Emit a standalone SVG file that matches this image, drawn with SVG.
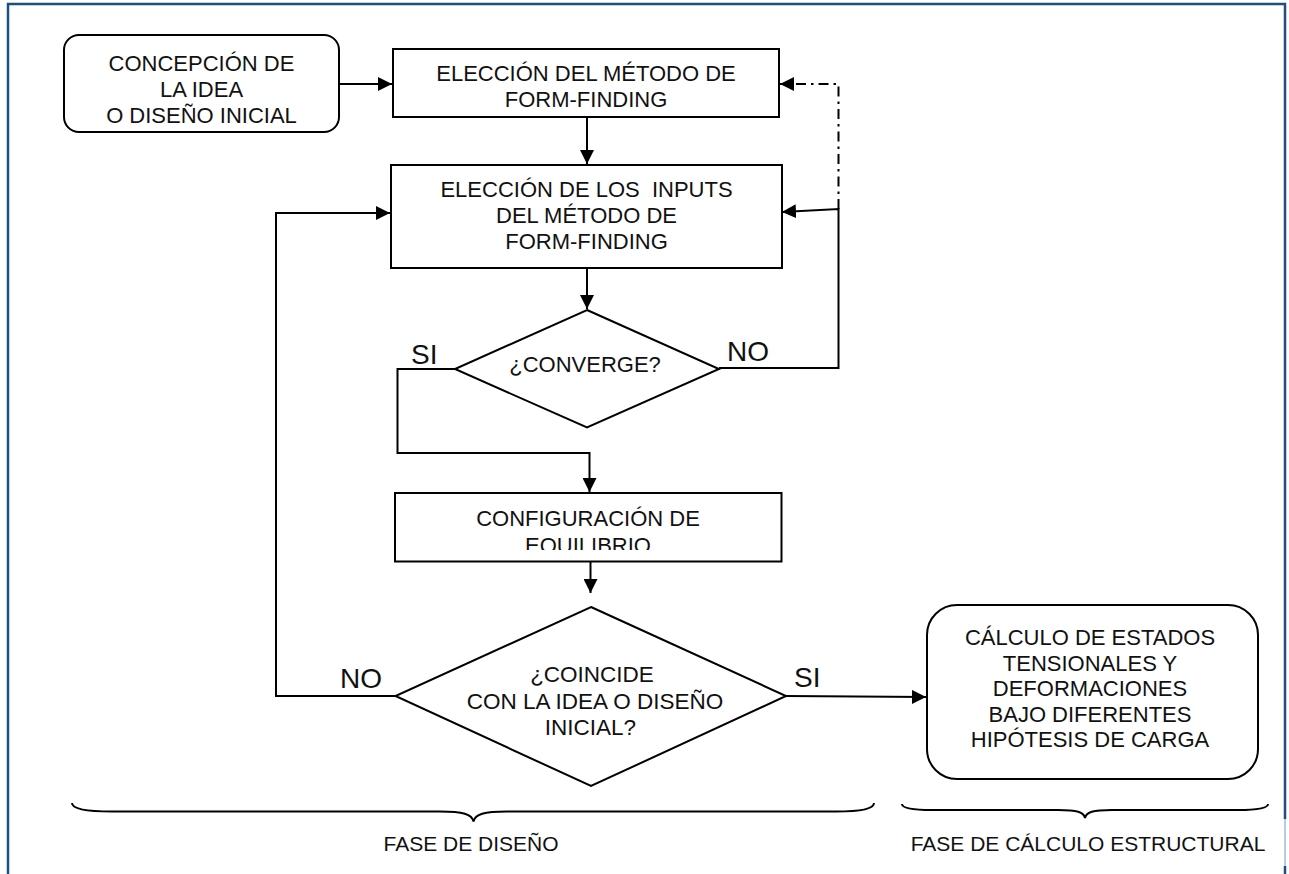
<svg xmlns="http://www.w3.org/2000/svg" width="1289" height="874" viewBox="0 0 1289 874">
  <style>
    .box { fill: #ffffff; stroke: #000000; stroke-width: 2; }
    .line { fill: none; stroke: #000000; stroke-width: 2; }
    .dashdot { fill: none; stroke: #000000; stroke-width: 2; stroke-dasharray: 10 5 2.5 5; }
    .brace { fill: none; stroke: #000000; stroke-width: 2; }
    .frame { fill: none; stroke: #1f4e80; stroke-width: 2.5; }
    .t { font-family: "Liberation Sans", Arial, sans-serif; font-size: 22px; fill: #111111; text-anchor: middle; white-space: pre; }
    .lbl { font-family: "Liberation Sans", Arial, sans-serif; font-size: 28px; fill: #111111; white-space: pre; }
    .phase { font-family: "Liberation Sans", Arial, sans-serif; font-size: 21px; fill: #111111; text-anchor: middle; }
  </style>
  <defs>
    <marker id="arrow" markerUnits="userSpaceOnUse" markerWidth="15" markerHeight="14" refX="14" refY="7" orient="auto">
      <path d="M0,0 L14,7 L0,14 Z" fill="#000000"/>
    </marker>
    <clipPath id="clip-equilibrio">
      <rect x="390" y="490" width="400" height="60"/>
    </clipPath>
  </defs>

  <rect width="1289" height="874" fill="#ffffff"/>

  <!-- page frame -->
  <g id="frame">
    <path class="frame" d="M8,874 V4 H1285 V819"/>
    <path d="M1285,819 V866" fill="none" stroke="#b8cce4" stroke-width="2"/>
    <path class="frame" d="M1285,866 V874"/>
  </g>

  <!-- connectors -->
  <g id="connectors">
    <path class="line" d="M340,84 H392" marker-end="url(#arrow)"/>
    <path class="line" d="M587,117 V164" marker-end="url(#arrow)"/>
    <path class="line" d="M587,268 V309" marker-end="url(#arrow)"/>
    <path class="dashdot" d="M838.5,209 V84 H795"/>
    <path class="line" d="M794,84 H780" marker-end="url(#arrow)"/>
    <path class="line" d="M719,368 H838.5 V209 L782,212" marker-end="url(#arrow)"/>
    <path class="line" d="M455,369 H397.5 V453 H589.5 V492" marker-end="url(#arrow)"/>
    <path class="line" d="M590.5,550 V593" marker-end="url(#arrow)"/>
    <path class="line" d="M395.5,696 H276 V213 H390" marker-end="url(#arrow)"/>
    <path class="line" d="M786,696 L926,697" marker-end="url(#arrow)"/>
    <text class="lbl" x="411" y="364">SI</text>
    <text class="lbl" x="727" y="361">NO</text>
    <text class="lbl" x="340" y="688">NO</text>
    <text class="lbl" x="794" y="687">SI</text>
  </g>

  <!-- start node -->
  <g id="node-concepcion">
    <rect class="box" x="64" y="35" width="275" height="97" rx="15" ry="15"/>
    <text class="t" x="201.5" y="71">CONCEPCIÓN DE</text>
    <text class="t" x="201.5" y="97">LA IDEA</text>
    <text class="t" x="201.5" y="123">O DISEÑO INICIAL</text>
  </g>

  <g id="node-metodo">
    <rect class="box" x="393" y="49" width="386" height="68"/>
    <text class="t" x="586" y="81">ELECCIÓN DEL MÉTODO DE</text>
    <text class="t" x="586" y="107">FORM-FINDING</text>
  </g>

  <g id="node-inputs">
    <rect class="box" x="391" y="165" width="391" height="103"/>
    <text class="t" x="586.5" y="197">ELECCIÓN DE LOS  INPUTS</text>
    <text class="t" x="586.5" y="222.5">DEL MÉTODO DE</text>
    <text class="t" x="586.5" y="248.5">FORM-FINDING</text>
  </g>

  <g id="node-converge">
    <polygon class="box" points="587,310 719,369 587,427.5 455,369"/>
    <text class="t" x="585" y="372">¿CONVERGE?</text>
  </g>

  <g id="node-equilibrio">
    <rect class="box" x="395" y="493" width="386.5" height="68.5"/>
    <text class="t" x="588" y="526">CONFIGURACIÓN DE</text>
    <text class="t" x="588" y="552.5" clip-path="url(#clip-equilibrio)">EQUILIBRIO</text>
  </g>

  <g id="node-coincide">
    <polygon class="box" points="591,607 786,696 591,786 395.5,696"/>
    <text class="t" x="592" y="682" style="font-size:22.5px">¿COINCIDE</text>
    <text class="t" x="595" y="708.5" style="font-size:22.5px">CON LA IDEA O DISEÑO</text>
    <text class="t" x="590.5" y="735" style="font-size:22.5px">INICIAL?</text>
  </g>

  <g id="node-calculo">
    <rect class="box" x="927" y="605" width="331" height="174" rx="30" ry="30"/>
    <text class="t" x="1090" y="645">CÁLCULO DE ESTADOS</text>
    <text class="t" x="1090" y="670.5">TENSIONALES Y</text>
    <text class="t" x="1090" y="696">DEFORMACIONES</text>
    <text class="t" x="1090" y="721.5">BAJO DIFERENTES</text>
    <text class="t" x="1090" y="747">HIPÓTESIS DE CARGA</text>
  </g>

  <!-- phase braces -->
  <g id="phase-diseno">
    <path class="brace" d="M72,803 C72,809 86,811.5 112,811.5 L440,811.5 C463,811.5 472,814 473.5,821.5 C475,814 484,811.5 507,811.5 L836,811.5 C861,811.5 874,809 874,803"/>
    <text class="phase" x="471" y="851">FASE DE DISEÑO</text>
  </g>

  <g id="phase-calculo">
    <path class="brace" d="M902,804 C902,808 912,810 932,810 L1058,810 C1077,810 1084,812 1085,818 C1086,812 1093,810 1112,810 L1238,810 C1258,810 1268,808 1268,804"/>
    <text class="phase" x="1088" y="851">FASE DE CÁLCULO ESTRUCTURAL</text>
  </g>
</svg>
